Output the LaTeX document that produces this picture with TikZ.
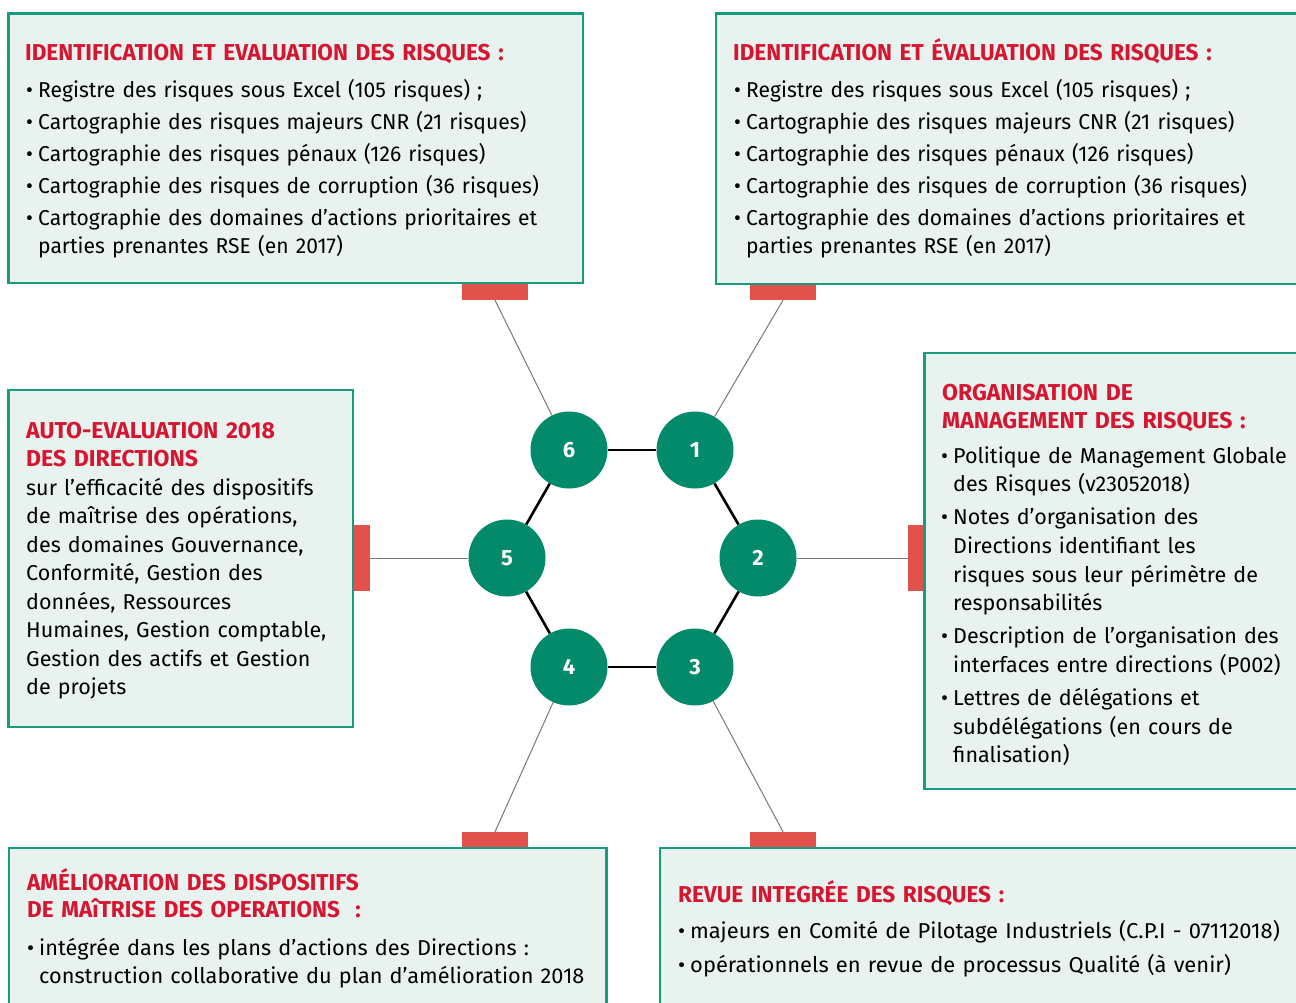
\documentclass[tikz,border=0pt]{standalone}
\usepackage{fontspec}
\setmainfont{Fira Sans}
\newfontfamily\condfont[FakeStretch=0.98]{Fira Sans}
\newfontfamily\hcondfont[FakeStretch=0.98]{Fira Sans}
\newfontfamily\widefont[FakeStretch=1.01]{Fira Sans}
\newfontfamily\widerfont[FakeStretch=1.02]{Fira Sans}
\definecolor{pgreen}{RGB}{24,156,126}
\definecolor{pfill}{RGB}{232,242,238}
\definecolor{cgreen}{RGB}{3,138,106}
\definecolor{hred}{RGB}{214,22,48}
\definecolor{tabred}{RGB}{224,82,75}
\definecolor{spokegray}{RGB}{120,120,120}
\newlength\bw
\setlength\bw{12pt}
\newcommand{\blf}[1]{\hangindent=\bw\hangafter=1\leavevmode\makebox[\bw][l]{\textbullet}#1}
\newcommand{\bl}[1]{\par\blf{#1}}
\tikzset{
  panel/.style={draw=pgreen, line width=2.8pt, fill=pfill},
  htab/.style={fill=tabred, draw=none, inner sep=0pt, minimum width=66pt, minimum height=16pt},
  vtab/.style={fill=tabred, draw=none, inner sep=0pt, minimum width=16pt, minimum height=66pt},
  num/.style={circle, fill=cgreen, minimum size=77pt, inner sep=0pt, text=white, font=\bfseries\fontsize{22}{22}\selectfont},
  spoke/.style={draw=spokegray, line width=1pt},
  hexedge/.style={draw=black, line width=2.6pt},
  txt/.style={inner sep=0pt, anchor=base west, text width=640pt},
  head/.style={txt, text=hred},
}
\begin{document}
\begin{tikzpicture}[x=1pt,y=-1pt]
\useasboundingbox (0,0) rectangle (1296,1002);
\clip (0,0) rectangle (1296,1002);
% tabs
\node[htab] (tTL) at (495,292) {};
\node[htab] (tTR) at (783,292) {};
\node[vtab] (tR) at (916,558) {};
\node[vtab] (tL) at (362,558) {};
\node[htab] (tBL) at (495,840) {};
\node[htab] (tBR) at (783,840) {};
% panels
\draw[panel] (8.5,13.5) rectangle (583,283);
\draw[panel] (716,13.5) rectangle (1312,284);
\draw[panel] (924.5,353) rectangle (1312,789);
\draw[panel] (8.5,390) rectangle (353,727);
\draw[panel] (9,848) rectangle (606.5,1030);
\draw[panel] (660,848) rectangle (1312,1030);
% texts TL
\node[head, font=\hcondfont\bfseries\fontsize{23}{28}\selectfont] (hTL) at (25,60) {IDENTIFICATION ET EVALUATION DES RISQUES :};
\node[txt, font=\condfont\fontsize{21.5}{28}\selectfont] (bTL) at (26,97) {\raggedright\setlength\parskip{4pt}%
\blf{Registre des risques sous Excel (105 risques) ;}
\bl{Cartographie des risques majeurs CNR (21 risques)}
\bl{Cartographie des risques pénaux (126 risques)}
\bl{Cartographie des risques de corruption (36 risques)}
\bl{Cartographie des domaines d’actions prioritaires et\newline parties prenantes RSE (en 2017)}\par};
% texts TR
\node[head, font=\hcondfont\bfseries\fontsize{23}{28}\selectfont] (hTR) at (733,60) {IDENTIFICATION ET ÉVALUATION DES RISQUES :};
\node[txt, font=\condfont\fontsize{21.5}{28}\selectfont] (bTR) at (734,97) {\raggedright\setlength\parskip{4pt}%
\blf{Registre des risques sous Excel (105 risques) ;}
\bl{Cartographie des risques majeurs CNR (21 risques)}
\bl{Cartographie des risques pénaux (126 risques)}
\bl{Cartographie des risques de corruption (36 risques)}
\bl{Cartographie des domaines d’actions prioritaires et\newline parties prenantes RSE (en 2017)}\par};
% texts R
\node[head, font=\bfseries\fontsize{23}{28}\selectfont] (hR) at (942,400) {\raggedright ORGANISATION DE\newline MANAGEMENT DES RISQUES :\par};
\node[txt, font=\fontsize{21.5}{28.7}\selectfont] (bR) at (941,463) {\raggedright\setlength\parskip{4.3pt}%
\blf{Politique de Management Globale\newline des Risques (v23052018)}
\bl{Notes d’organisation des\newline Directions identifiant les\newline risques sous leur périmètre de\newline responsabilités}
\bl{Description de l’organisation des\newline interfaces entre directions (P002)}
\bl{Lettres de délégations et\newline subdélégations (en cours de\newline finalisation)}\par};
% texts L
\node[head, font=\bfseries\fontsize{23}{28.8}\selectfont] (hL) at (26,438) {\raggedright AUTO-EVALUATION 2018\newline DES DIRECTIONS\par};
\node[txt, font=\fontsize{21.5}{28.5}\selectfont] (bL) at (26,495) {\raggedright sur l’efficacité des dispositifs\newline de maîtrise des opérations,\newline des domaines Gouvernance,\newline Conformité, Gestion des\newline données, Ressources\newline Humaines, Gestion comptable,\newline Gestion des actifs et Gestion\newline de projets\par};
% texts BL
\node[head, font=\hcondfont\bfseries\fontsize{23}{27.5}\selectfont] (hBL) at (27,890) {\raggedright AMÉLIORATION DES DISPOSITIFS\newline DE MAîTRISE DES OPERATIONS\ \ :\par};
\node[txt, font=\widefont\fontsize{21.5}{28}\selectfont] (bBL) at (27,955) {\raggedright
\blf{intégrée dans les plans d’actions des Directions :\newline construction collaborative du plan d’amélioration 2018}\par};
% texts BR
\node[head, font=\hcondfont\bfseries\fontsize{23}{28}\selectfont] (hBR) at (678,902) {REVUE INTEGRÉE DES RISQUES :};
\node[txt, font=\widerfont\fontsize{21.5}{28}\selectfont] (bBR) at (678,938) {\raggedright\setlength\parskip{6pt}%
\blf{majeurs en Comité de Pilotage Industriels (C.P.I - 07112018)}
\bl{opérationnels en revue de processus Qualité (à venir)}\par};
% circles
\node[num] (c6) at (569,450) {6};
\node[num] (c1) at (695,450) {1};
\node[num] (c2) at (758,558) {2};
\node[num] (c3) at (695,667) {3};
\node[num] (c4) at (569,667) {4};
\node[num] (c5) at (507,558) {5};
% hexagon
\draw[hexedge] (c1) -- (c2);
\draw[hexedge] (c2) -- (c3);
\draw[hexedge] (c3) -- (c4);
\draw[hexedge] (c4) -- (c5);
\draw[hexedge] (c5) -- (c6);
\draw[hexedge] (c6) -- (c1);
% spokes
\draw[spoke] (tTL.south) -- (c6);
\draw[spoke] (tTR.south) -- (c1);
\draw[spoke] (c2) -- (tR.west);
\draw[spoke] (c3) -- (tBR.north);
\draw[spoke] (c4) -- (tBL.north);
\draw[spoke] (tL.east) -- (c5);
\end{tikzpicture}
\end{document}
